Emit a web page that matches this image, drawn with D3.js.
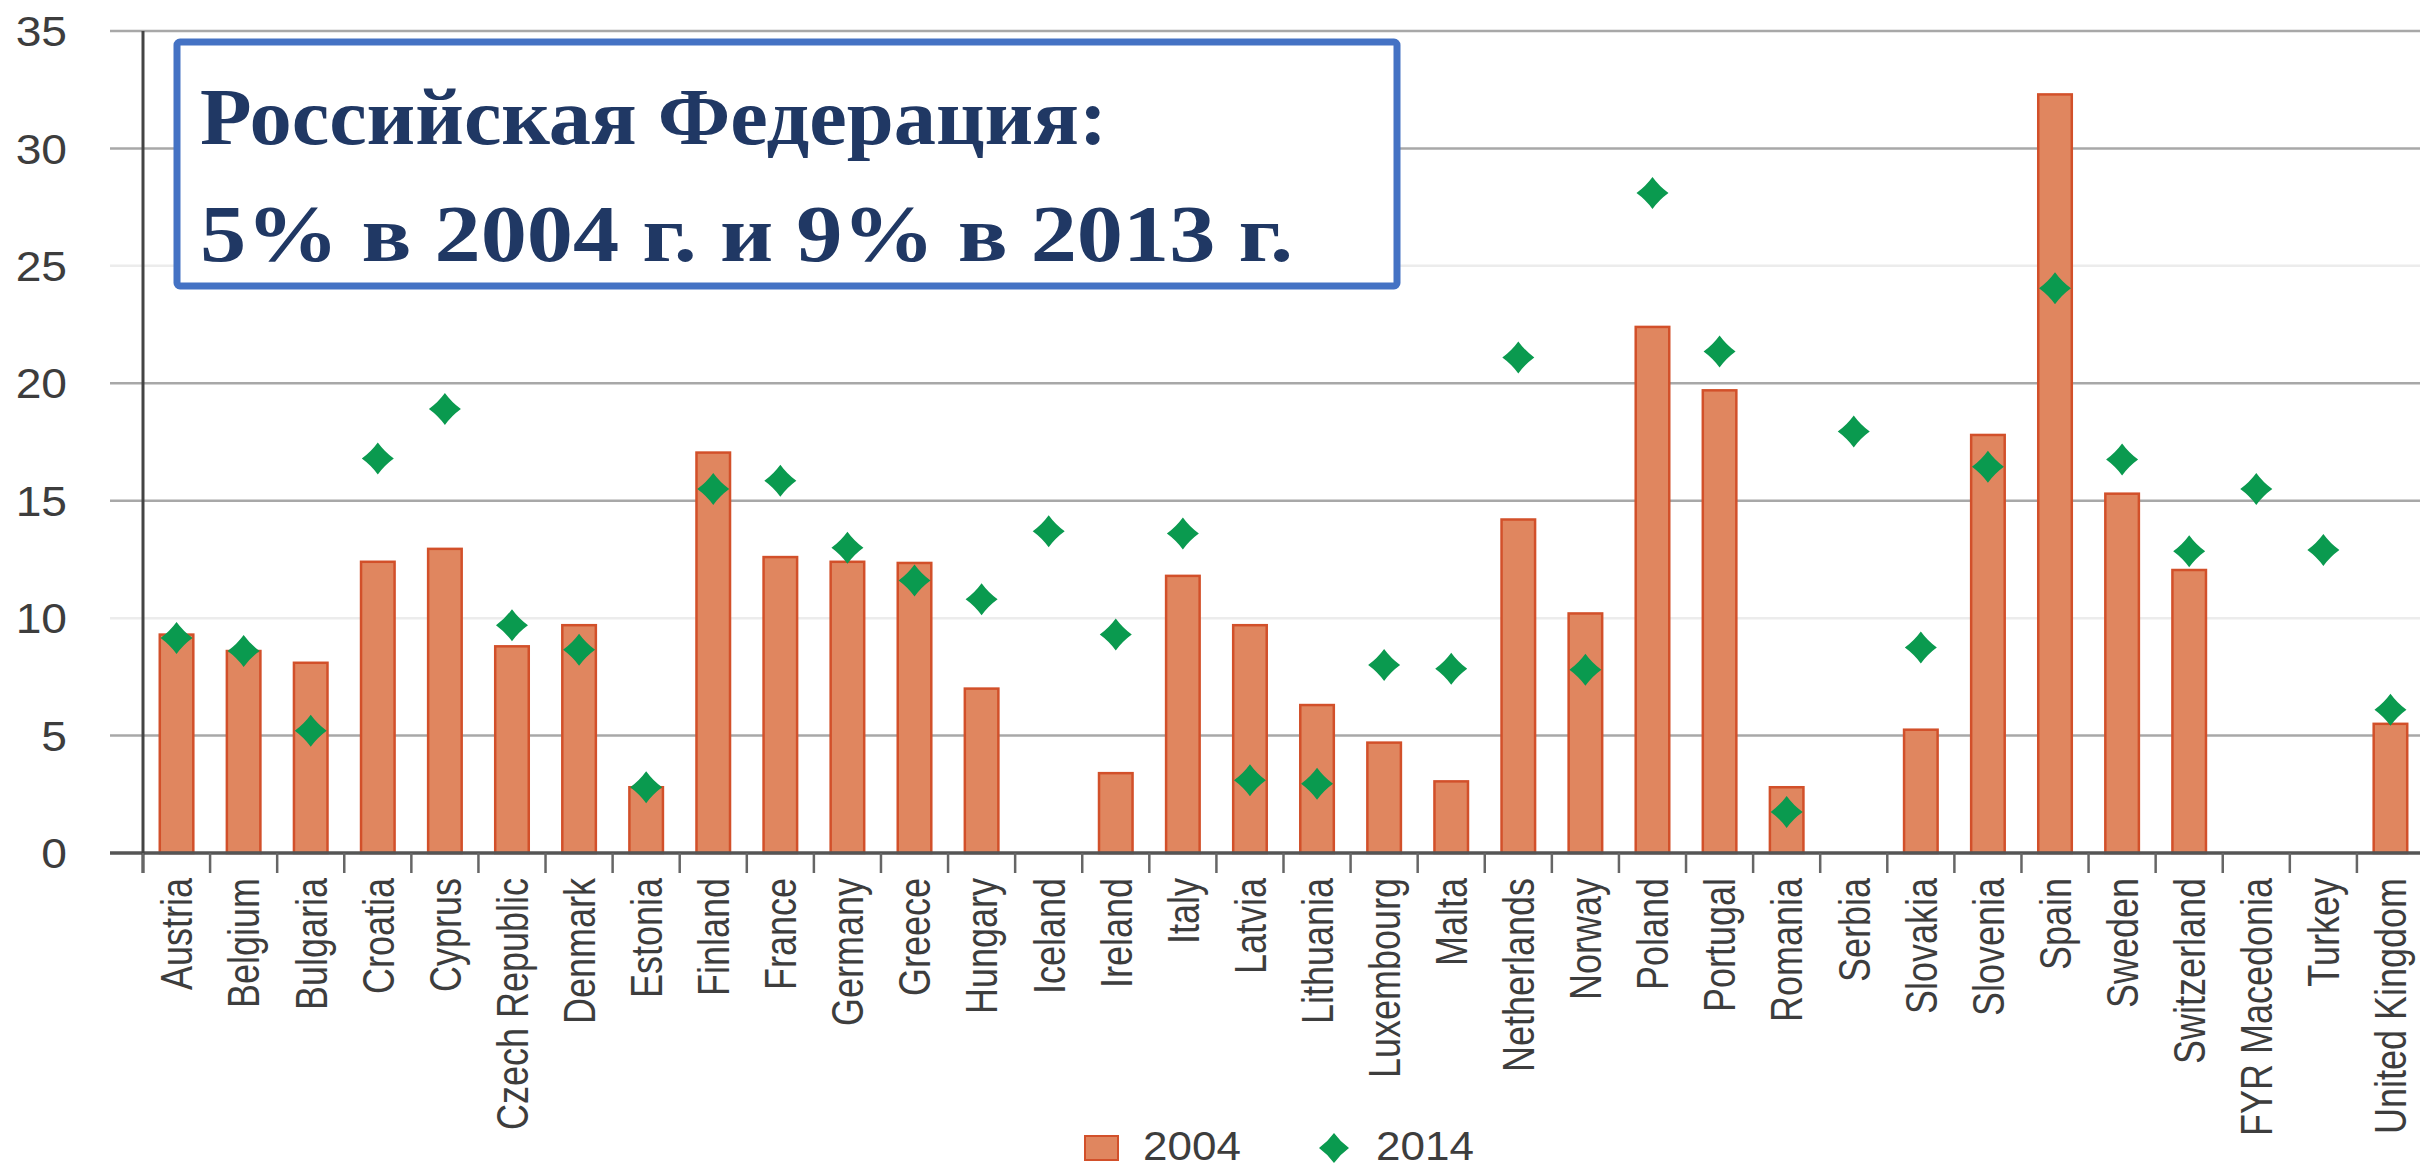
<!DOCTYPE html>
<html>
<head>
<meta charset="utf-8">
<script src="https://cdn.jsdelivr.net/npm/d3@7"></script>
<style>
  html, body { margin: 0; padding: 0; background: #fff; }
  svg { display: block; }
</style>
</head>
<body>
<svg id="chart" width="2420" height="1168"></svg>
<script>
// categories and values
const countries = ["Austria", "Belgium", "Bulgaria", "Croatia", "Cyprus", "Czech Republic",
  "Denmark", "Estonia", "Finland", "France", "Germany", "Greece", "Hungary", "Iceland",
  "Ireland", "Italy", "Latvia", "Lithuania", "Luxembourg", "Malta", "Netherlands", "Norway",
  "Poland", "Portugal", "Romania", "Serbia", "Slovakia", "Slovenia", "Spain", "Sweden",
  "Switzerland", "FYR Macedonia", "Turkey", "United Kingdom"];
const v2004 = [9.3, 8.6, 8.1, 12.4, 12.95, 8.8, 9.7, 2.8, 17.05, 12.6, 12.4, 12.35, 7.0, null,
  3.4, 11.8, 9.7, 6.3, 4.7, 3.05, 14.2, 10.2, 22.4, 19.7, 2.8, null, 5.25, 17.8, 32.3, 15.3,
  12.05, null, null, 5.5];
const v2014 = [9.15, 8.6, 5.2, 16.8, 18.9, 9.7, 8.65, 2.8, 15.5, 15.85, 13.0, 11.6, 10.8, 13.7,
  9.3, 13.6, 3.1, 2.95, 8.0, 7.85, 21.1, 7.8, 28.1, 21.35, 1.75, 17.95, 8.75, 16.45, 24.05,
  16.75, 12.85, 15.5, 12.9, 6.1];
const yTicks = [0, 5, 10, 15, 20, 25, 30, 35];
const faintTicks = [10, 25];
const seriesNames = ["2004", "2014"];
const titleLines = ["Российская Федерация:", "5% в 2004 г. и 9% в 2013 г."];

const barFill = "#E0865F", barEdge = "#D2502A", dotFill = "#0A9A4F";
const textCol = "#3d3d3d";

const svg = d3.select("#chart");

const x = d3.scaleBand().domain(countries).range([143, 2424]).paddingInner(0.5).paddingOuter(0.25);
const y = d3.scaleLinear().domain([0, 35]).range([853, 31]);
const step = x.step();

// diamond with slightly pinched sides
function diamond(r) {
  const c = r * 0.42;
  return `M0,${-r} Q${c},${-c} ${r},0 Q${c},${c} 0,${r} Q${-c},${c} ${-r},0 Q${-c},${-c} 0,${-r}Z`;
}

// grid
svg.append("g").selectAll("line")
  .data(yTicks.filter(d => d > 0))
  .enter().append("line")
  .attr("x1", 110).attr("x2", 2420)
  .attr("y1", d => y(d)).attr("y2", d => y(d))
  .attr("stroke", d => faintTicks.includes(d) ? "#ececec" : "#a8a8a8")
  .attr("stroke-width", 2.5);

// y labels
svg.append("g").selectAll("text")
  .data(yTicks)
  .enter().append("text")
  .attr("transform", d => `translate(67,${y(d)}) scale(1.1,1)`)
  .attr("dy", "0.36em")
  .attr("text-anchor", "end")
  .attr("font-family", "Liberation Sans, Arial, sans-serif")
  .attr("font-size", 42)
  .attr("fill", textCol)
  .text(d => d);

// bars
svg.append("g").selectAll("rect")
  .data(countries.map((c, i) => ({ c: c, v: v2004[i] })).filter(d => d.v != null))
  .enter().append("rect")
  .attr("x", d => x(d.c))
  .attr("y", d => y(d.v))
  .attr("width", x.bandwidth())
  .attr("height", d => y(0) - y(d.v))
  .attr("fill", barFill)
  .attr("stroke", barEdge)
  .attr("stroke-width", 2.5);

// axes lines
svg.append("line").attr("x1", 110).attr("x2", 2420).attr("y1", y(0)).attr("y2", y(0))
  .attr("stroke", "#555").attr("stroke-width", 3.5);
svg.append("line").attr("x1", 143).attr("x2", 143).attr("y1", y(35)).attr("y2", y(0) + 20)
  .attr("stroke", "#444").attr("stroke-width", 3);

// x ticks at band edges
svg.append("g").selectAll("line")
  .data(countries)
  .enter().append("line")
  .attr("x1", d => x(d) - (step - x.bandwidth()) / 2)
  .attr("x2", d => x(d) - (step - x.bandwidth()) / 2)
  .attr("y1", y(0)).attr("y2", y(0) + 20)
  .attr("stroke", "#666").attr("stroke-width", 2.5);

// 2014 markers
svg.append("g").selectAll("path")
  .data(countries.map((c, i) => ({ c: c, v: v2014[i] })).filter(d => d.v != null))
  .enter().append("path")
  .attr("transform", d => `translate(${x(d.c) + x.bandwidth() / 2},${y(d.v)})`)
  .attr("d", diamond(16))
  .attr("fill", dotFill);

// x labels
svg.append("g").selectAll("text")
  .data(countries)
  .enter().append("text")
  .attr("transform", d => `translate(${x(d) + x.bandwidth() / 2},878) scale(1.22,1) rotate(-90)`)
  .attr("dy", "0.36em")
  .attr("text-anchor", "end")
  .attr("font-family", "Liberation Sans, Arial, sans-serif")
  .attr("font-size", 36)
  .attr("fill", textCol)
  .text(d => d);

// legend
const lg = svg.append("g");
lg.append("rect").attr("x", 1085).attr("y", 1136).attr("width", 33).attr("height", 24)
  .attr("fill", barFill).attr("stroke", barEdge).attr("stroke-width", 2);
lg.append("text").attr("transform", "translate(1143,1160) scale(1.1,1)")
  .attr("font-family", "Liberation Sans, Arial, sans-serif").attr("font-size", 40)
  .attr("fill", textCol).text(seriesNames[0]);
lg.append("path").attr("transform", "translate(1334,1148)").attr("d", diamond(15)).attr("fill", dotFill);
lg.append("text").attr("transform", "translate(1376,1160) scale(1.1,1)")
  .attr("font-family", "Liberation Sans, Arial, sans-serif").attr("font-size", 40)
  .attr("fill", textCol).text(seriesNames[1]);

// title box
const tb = svg.append("g");
tb.append("rect").attr("x", 177).attr("y", 42).attr("width", 1220).attr("height", 244)
  .attr("rx", 3)
  .attr("fill", "#fff").attr("stroke", "#4472C4").attr("stroke-width", 7);
const lineEnds = [1107, 1293];
tb.selectAll("text")
  .data(titleLines)
  .enter().append("text")
  .attr("x", 200)
  .attr("y", (d, i) => 144 + i * 117)
  .attr("font-family", "Liberation Serif, Times New Roman, serif")
  .attr("font-weight", "bold")
  .attr("font-size", 80)
  .attr("fill", "#203864")
  .attr("textLength", (d, i) => lineEnds[i] - 200)
  .attr("lengthAdjust", "spacingAndGlyphs")
  .text(d => d);
</script>
</body>
</html>
